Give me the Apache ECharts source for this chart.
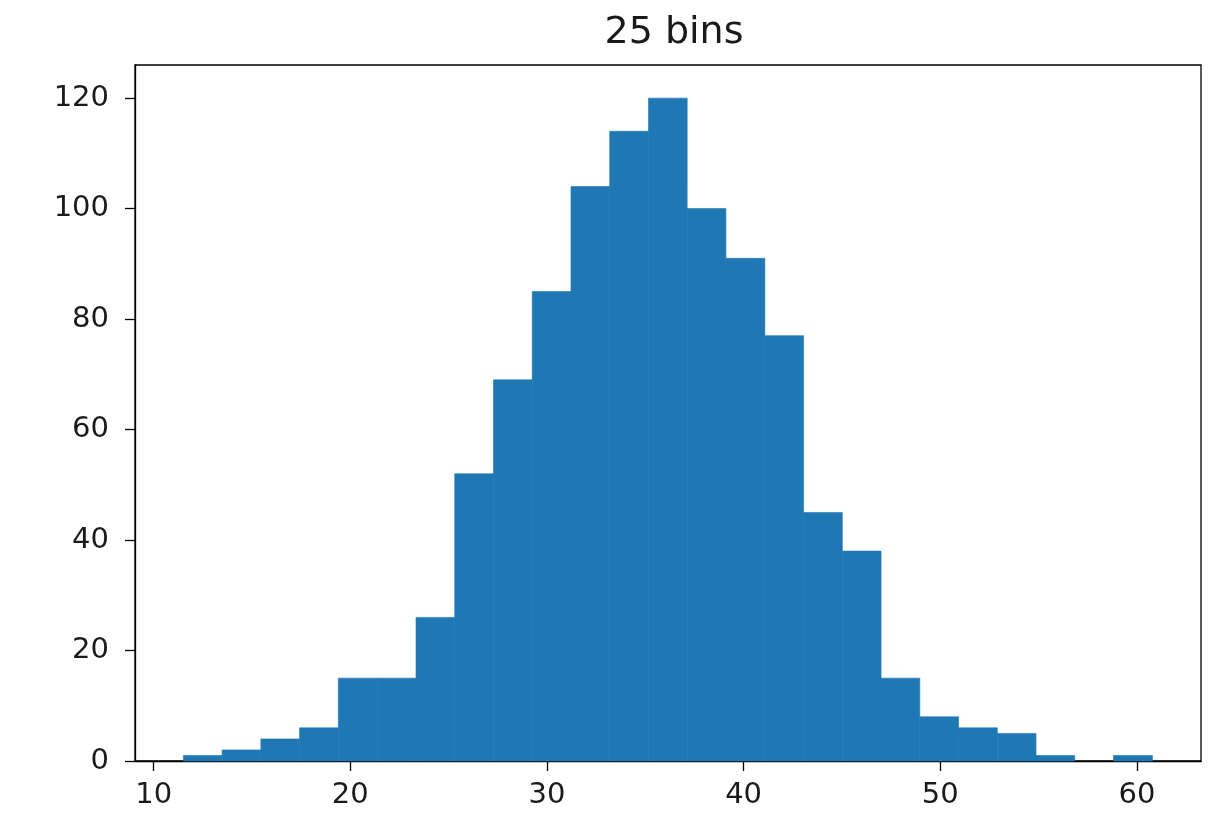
<!DOCTYPE html>
<html>
<head>
<meta charset="utf-8">
<script src="https://cdn.jsdelivr.net/npm/echarts@6/dist/echarts.min.js"></script>
<style>
  html, body { margin: 0; padding: 0; background: #fff; }
  #chart { width: 1220px; height: 813px; }
</style>
</head>
<body>
<div id="chart"></div>
<script>
// Histogram bin edges (26 edges -> 25 bins)
const binEdges = [11.51, 13.48, 15.45, 17.42, 19.39, 21.37, 23.34, 25.31, 27.28, 29.25,
                  31.22, 33.19, 35.16, 37.13, 39.10, 41.08, 43.05, 45.02, 46.99, 48.96,
                  50.93, 52.90, 54.87, 56.84, 58.81, 60.79];
// Counts per bin
const binCounts = [1, 2, 4, 6, 15, 15, 26, 52, 69, 85, 104, 114, 120, 100, 91, 77,
                   45, 38, 15, 8, 6, 5, 1, 0, 1];
const titleText = '25 bins';
const xRange = [9.05, 63.26];
const yRange = [0, 126];

const histData = binCounts.map((c, i) => [binEdges[i], binEdges[i + 1], c]);

const chart = echarts.init(document.getElementById('chart'));
const textColor = '#1a1a1a';
const fontFamily = 'DejaVu Sans';

chart.setOption({
  animation: false,
  backgroundColor: '#fff',
  title: {
    text: titleText,
    left: 669,
    textAlign: 'center',
    top: 9,
    textStyle: { fontFamily, fontSize: 38, fontWeight: 'normal', color: textColor }
  },
  grid: {
    left: 135, right: 19, top: 65, bottom: 52,
    show: true, borderColor: '#000', borderWidth: 1.3, backgroundColor: 'transparent'
  },
  xAxis: {
    type: 'value',
    min: xRange[0], max: xRange[1],
    splitNumber: 5, minInterval: 10, maxInterval: 10,
    axisLine: { show: true, lineStyle: { color: '#000', width: 1.3 } },
    axisTick: { show: true, length: 10, lineStyle: { color: '#000', width: 1.3 } },
    axisLabel: {
      showMinLabel: false, showMaxLabel: false,
      margin: 20, fontFamily, fontSize: 29, color: textColor
    },
    splitLine: { show: false }
  },
  yAxis: {
    type: 'value',
    min: yRange[0], max: yRange[1], interval: 20,
    axisLine: { show: true, lineStyle: { color: '#000', width: 1.3 } },
    axisTick: { show: true, length: 10, lineStyle: { color: '#000', width: 1.3 } },
    axisLabel: {
      showMaxLabel: false,
      margin: 26, fontFamily, fontSize: 29, color: textColor
    },
    splitLine: { show: false }
  },
  series: [{
    type: 'custom',
    data: histData,
    encode: { x: [0, 1], y: 2 },
    z: 1,
    renderItem: function (params, api) {
      if (api.value(2) <= 0) return null;
      const p0 = api.coord([api.value(0), api.value(2)]);
      const p1 = api.coord([api.value(1), 0]);
      return {
        type: 'rect',
        shape: { x: p0[0], y: p0[1], width: p1[0] - p0[0], height: p1[1] - p0[1] },
        style: { fill: '#1f77b4', stroke: '#1f77b4', lineWidth: 0.6 }
      };
    }
  }]
});
</script>
</body>
</html>
